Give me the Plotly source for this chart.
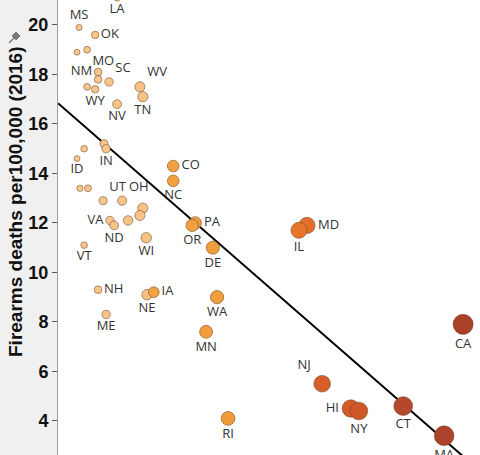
import numpy as np
import plotly.graph_objects as go

# ---- data (x: gun-law score, y: firearm deaths per 100k, 2016) ----
states = ["LA", "MS", "OK", "MT", "MO", "NM", "AR", "SC", "KY", "WY",
          "WV", "TN", "NV", "AZ", "IN", "GA", "ID", "KS", "SD", "UT",
          "OH", "FL", "MI", "TX", "VA", "ND", "VT", "WI", "NH", "NE",
          "IA", "ME", "CO", "NC", "PA", "OR", "DE", "WA", "MN", "MD",
          "IL", "CA", "NJ", "HI", "NY", "CT", "MA", "RI"]
law_score = [14.0, 5.0, 8.8, 4.5, 6.9, 9.5, 9.5, 12.1, 6.9, 8.8,
             19.4, 20.1, 14.0, 10.9, 11.4, 6.2, 4.5, 5.2, 7.1, 10.7,
             15.2, 20.1, 19.4, 16.6, 12.3, 13.3, 6.2, 20.9, 9.5, 21.1,
             22.7, 11.4, 27.3, 27.3, 32.5, 31.8, 36.7, 37.7, 35.1, 59.0,
             57.1, 96.0, 62.6, 69.4, 71.3, 81.8, 91.5, 40.3]
death_rate = [21.15, 19.9, 19.6, 18.9, 19.0, 18.1, 17.8, 17.7, 17.5, 17.4,
              17.5, 17.1, 16.8, 15.2, 15.0, 15.0, 14.6, 13.4, 13.4, 12.9,
              12.9, 12.6, 12.3, 12.1, 12.1, 11.9, 11.1, 11.4, 9.3, 9.1,
              9.2, 8.3, 14.3, 13.7, 12.0, 11.9, 11.0, 9.0, 7.6, 11.9,
              11.7, 7.9, 5.5, 4.5, 4.4, 4.6, 3.4, 4.1]
unlabeled = {"MT", "AR", "KY", "AZ", "GA", "KS", "SD", "FL", "MI", "TX"}

trend_intercept = 16.84
trend_slope = -0.1487

y_title = "Firearms deaths per100,000 (2016)"

# ---- styling ----
label_pos = {
    "MS": "top center", "LA": "bottom center", "OK": "middle right",
    "MO": "bottom right", "NM": "middle left", "SC": "top right",
    "WY": "bottom center", "WV": "top right", "TN": "bottom center",
    "NV": "bottom center", "IN": "bottom center", "ID": "bottom center",
    "UT": "top right", "OH": "top right", "VA": "middle left",
    "ND": "bottom center", "VT": "bottom center", "WI": "bottom center",
    "NH": "middle right", "NE": "bottom center", "IA": "middle right",
    "ME": "bottom center", "CO": "middle right", "NC": "bottom center",
    "PA": "middle right", "OR": "bottom center", "DE": "bottom center",
    "WA": "bottom center", "MN": "bottom center", "MD": "middle right",
    "IL": "bottom center", "CA": "bottom center", "NJ": "top left",
    "HI": "middle left", "NY": "bottom center", "CT": "bottom center",
    "MA": "bottom center", "RI": "bottom center",
}
texts = ["" if s in unlabeled else s for s in states]
positions = [label_pos.get(s, "middle center") for s in states]
sizes = [2 + 1.85 * np.sqrt(v) for v in law_score]

colorscale = [
    [0.0, "#f9c990"], [0.215, "#f7c184"], [0.222, "#f3a243"],
    [0.45, "#f19a37"], [0.55, "#ec7d2b"], [0.60, "#e26b2a"],
    [0.62, "#d95f29"], [0.75, "#cc5428"], [0.78, "#b84a2d"],
    [1.0, "#a63f28"],
]

W, H = 480, 455
L = 58

fig = go.Figure()

tx = np.array([0, 100])
fig.add_trace(go.Scatter(
    x=tx, y=trend_intercept + trend_slope * tx, mode="lines",
    line=dict(color="black", width=2), hoverinfo="skip", showlegend=False,
))

fig.add_trace(go.Scatter(
    x=law_score, y=death_rate, mode="markers+text",
    text=texts, textposition=positions,
    textfont=dict(family="Open Sans", size=13, color="#333333"),
    marker=dict(size=sizes, color=law_score, colorscale=colorscale,
                cmin=0, cmax=100,
                line=dict(color="rgba(110,70,40,0.55)", width=1),
                opacity=1),
    cliponaxis=True, showlegend=False,
))

# pin icon (decoration)
def px2paper(px, py):
    return (px - L) / (W - L), 1 - py / H

p1 = px2paper(9, 43)
p2 = px2paper(14, 38)
head = [px2paper(x, y) for x, y in [(12, 36), (16, 40), (20, 36), (16, 32)]]
fig.add_shape(type="line", xref="paper", yref="paper",
              x0=p1[0], y0=p1[1], x1=p2[0], y1=p2[1],
              line=dict(color="#7a7a7a", width=1.5))
path = "M " + " L ".join(f"{a},{b}" for a, b in head) + " Z"
fig.add_shape(type="path", xref="paper", yref="paper", path=path,
              fillcolor="#7a7a7a", line=dict(color="#7a7a7a", width=1))

fig.add_annotation(
    text=y_title, textangle=-90, showarrow=False,
    xref="paper", yref="paper",
    x=(15 - L) / (W - L), y=1 - 202 / H, xanchor="center", yanchor="middle",
    font=dict(family="Liberation Sans", size=19, color="#111111", weight="bold"),
)

fig.update_layout(
    width=W, height=H,
    margin=dict(l=L, r=0, t=0, b=0),
    paper_bgcolor="#f0f0f0", plot_bgcolor="white",
    xaxis=dict(range=[0, 100], visible=False),
    yaxis=dict(range=[2.62, 21.01], tickvals=[4, 6, 8, 10, 12, 14, 16, 18, 20],
               ticks="outside", ticklen=5, tickcolor="#555555",
               showline=True, linecolor="#a0a0a0", linewidth=1,
               showgrid=False, zeroline=False,
               tickfont=dict(family="Liberation Sans", size=18,
                             color="#111111", weight="bold")),
)

fig.write_html("out.html")
